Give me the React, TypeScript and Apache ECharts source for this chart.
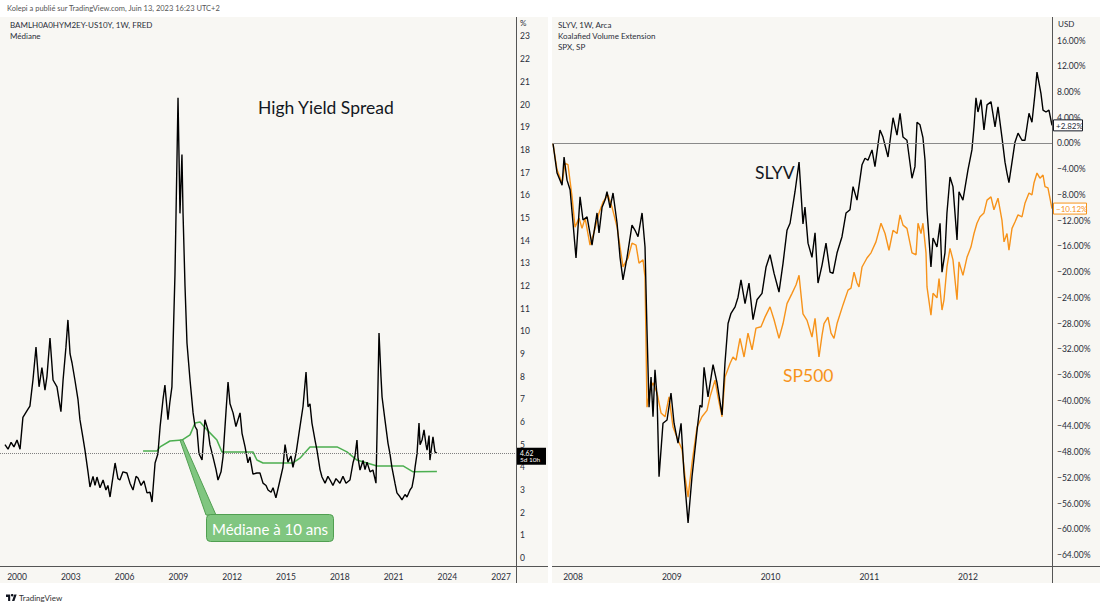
import React, { useEffect, useRef } from "react";
import * as echarts from "echarts";

// ---------- Left panel: High Yield spread (BAMLH0A0HYM2EY - US10Y), weekly, % ----------
const hyDates = [
  1999.33, 1999.5, 1999.67, 1999.83, 2000.0, 2000.17, 2000.33, 2000.56, 2000.72, 2000.89,
  2001.06, 2001.23, 2001.39, 2001.56, 2001.67, 2001.84, 2002.01, 2002.23, 2002.34, 2002.45,
  2002.57, 2002.73, 2002.84, 2002.96, 2003.07, 2003.23, 2003.4, 2003.51, 2003.68, 2003.79,
  2003.96, 2004.07, 2004.24, 2004.35, 2004.46, 2004.63, 2004.8, 2004.96, 2005.07, 2005.19,
  2005.3, 2005.47, 2005.63, 2005.74, 2005.91, 2006.13, 2006.3, 2006.47, 2006.64, 2006.75,
  2006.92, 2007.08, 2007.25, 2007.42, 2007.53, 2007.7, 2007.86, 2007.98, 2008.14, 2008.25,
  2008.42, 2008.53, 2008.64, 2008.7, 2008.81, 2008.87, 2008.92, 2008.98, 2009.03, 2009.09,
  2009.2, 2009.26, 2009.37, 2009.48, 2009.65, 2009.82, 2009.93, 2010.04, 2010.15, 2010.32,
  2010.48, 2010.65, 2010.76, 2010.93, 2011.1, 2011.21, 2011.38, 2011.49, 2011.66, 2011.77,
  2011.88, 2012.05, 2012.21, 2012.44, 2012.55, 2012.72, 2012.88, 2012.99, 2013.16, 2013.38,
  2013.55, 2013.72, 2013.89, 2014.0, 2014.17, 2014.28, 2014.44, 2014.67, 2014.83, 2014.95,
  2015.11, 2015.28, 2015.39, 2015.56, 2015.78, 2015.95, 2016.12, 2016.23, 2016.34, 2016.45,
  2016.62, 2016.73, 2016.9, 2017.01, 2017.18, 2017.34, 2017.46, 2017.62, 2017.79, 2018.01,
  2018.18, 2018.35, 2018.57, 2018.74, 2018.85, 2018.96, 2019.02, 2019.13, 2019.3, 2019.41,
  2019.52, 2019.69, 2019.85, 2020.02, 2020.08, 2020.19, 2020.3, 2020.36, 2020.52, 2020.69,
  2020.8, 2020.91, 2021.08, 2021.19, 2021.36, 2021.47, 2021.64, 2021.75, 2021.92, 2022.03,
  2022.14, 2022.2, 2022.31, 2022.42, 2022.48, 2022.59, 2022.7, 2022.81, 2022.87, 2022.98,
  2023.03, 2023.14, 2023.2, 2023.31, 2023.42,
];
const hyValues = [
  5.0, 4.8, 5.1, 4.9, 5.2, 4.8, 6.2, 6.5, 6.7, 7.85,
  9.3, 7.55, 8.4, 7.4, 8.0, 9.7, 7.85, 7.55, 7.0, 6.45,
  7.85, 9.3, 10.5, 9.0, 8.6, 7.85, 7.0, 6.1, 5.3, 4.76,
  3.8, 3.13, 3.6, 3.2, 3.57, 3.1, 3.44, 3.0, 3.2, 2.69,
  3.3, 4.19, 3.5, 3.44, 3.8, 3.75, 3.3, 3.0, 3.6, 3.53,
  3.2, 3.4, 2.87, 2.9, 2.47, 4.19, 4.6, 5.78, 6.97, 7.63,
  6.1, 6.9, 7.55, 9.3, 12.5, 15.2, 17.5, 20.3, 18.0, 15.2,
  17.8, 15.2, 12.0, 9.48, 7.85, 6.4, 5.8, 5.65, 4.6, 4.32,
  6.1, 5.65, 5.0, 4.46, 3.9, 3.44, 3.8, 4.46, 6.5, 7.76,
  6.8, 6.4, 5.8, 6.4, 5.5, 4.9, 4.2, 4.46, 3.7, 3.75,
  3.75, 3.3, 3.2, 3.0, 2.9, 3.1, 2.65, 3.44, 4.0, 5.0,
  4.23, 4.5, 4.0, 4.6, 5.78, 6.67, 8.2, 6.67, 6.8, 5.95,
  5.2, 4.76, 3.9, 3.57, 3.3, 3.6, 3.44, 3.2, 3.5, 3.3,
  3.6, 3.3, 3.44, 4.2, 4.5, 5.2, 4.4, 3.88, 4.3, 3.9,
  4.23, 3.8, 3.88, 3.3, 5.5, 9.92, 8.0, 7.1, 6.1, 5.07,
  4.6, 4.0, 3.3, 2.87, 2.7, 2.56, 2.8, 2.69, 3.0, 3.13,
  3.6, 4.0, 4.6, 5.95, 5.0, 5.2, 5.65, 5.0, 4.76, 5.4,
  4.32, 5.0, 5.34, 4.68, 4.62,
];
const hyLast = 4.62;

// 10-year median of the spread
const medDates = [
  2007.03, 2007.81, 2007.98, 2008.53, 2009.2, 2009.65, 2009.93, 2010.21, 2010.6, 2011.15,
  2011.43, 2013.16, 2013.38, 2013.72, 2015.39, 2015.78, 2016.34, 2017.85, 2018.4, 2018.96,
  2019.52, 2020.08, 2021.53, 2022.09, 2023.42,
];
const medValues = [
  4.72, 4.72, 4.9, 5.16, 5.2, 5.43, 5.95, 6.0, 5.65, 5.2,
  4.68, 4.68, 4.32, 4.19, 4.19, 4.4, 4.9, 4.9, 4.68, 4.32,
  4.19, 4.06, 4.06, 3.8, 3.82,
];

const hyYearTicks = [2000, 2003, 2006, 2009, 2012, 2015, 2018, 2021, 2024, 2027];
const hyRateTicks = [0, 1, 2, 3, 4, 5, 6, 7, 8, 9, 10, 11, 12, 13, 14, 15, 16, 17, 18, 19, 20, 21, 22, 23];

// ---------- Right panel: SLYV vs SPX, % change ----------
const slyvDates = [
  2007.797, 2007.838, 2007.889, 2007.909, 2007.939, 2007.97, 2008.0, 2008.03, 2008.071, 2008.101,
  2008.142, 2008.192, 2008.243, 2008.263, 2008.294, 2008.324, 2008.344, 2008.375, 2008.405, 2008.446,
  2008.476, 2008.506, 2008.547, 2008.597, 2008.628, 2008.658, 2008.699, 2008.729, 2008.749, 2008.77,
  2008.79, 2008.81, 2008.83, 2008.851, 2008.871, 2008.911, 2008.952, 2008.992, 2009.023, 2009.063,
  2009.094, 2009.124, 2009.165, 2009.205, 2009.256, 2009.286, 2009.306, 2009.327, 2009.367, 2009.418,
  2009.458, 2009.509, 2009.539, 2009.57, 2009.6, 2009.641, 2009.671, 2009.701, 2009.742, 2009.782,
  2009.823, 2009.863, 2009.914, 2009.955, 2009.995, 2010.036, 2010.086, 2010.127, 2010.167, 2010.198,
  2010.248, 2010.289, 2010.329, 2010.349, 2010.38, 2010.42, 2010.451, 2010.481, 2010.522, 2010.562,
  2010.603, 2010.633, 2010.674, 2010.724, 2010.765, 2010.805, 2010.836, 2010.876, 2010.927, 2010.957,
  2010.987, 2011.028, 2011.058, 2011.109, 2011.139, 2011.19, 2011.241, 2011.281, 2011.312, 2011.342,
  2011.382, 2011.433, 2011.463, 2011.484, 2011.514, 2011.544, 2011.565, 2011.585, 2011.625, 2011.646,
  2011.686, 2011.717, 2011.737, 2011.767, 2011.787, 2011.818, 2011.848, 2011.889, 2011.909, 2011.949,
  2012.0, 2012.04, 2012.061, 2012.081, 2012.101, 2012.132, 2012.162, 2012.193, 2012.233, 2012.274,
  2012.304, 2012.344, 2012.375, 2012.395, 2012.415, 2012.446, 2012.476, 2012.507, 2012.547, 2012.577,
  2012.618, 2012.648, 2012.679, 2012.699, 2012.739, 2012.76, 2012.79, 2012.82, 2012.851,
];
const slyvValues = [
  0, -4.6, -6.5, -2.1, -5.7, -7.2, -12.4, -17.8, -8.3, -11.9,
  -11.4, -15.8, -10.8, -13.9, -9.9, -8.8, -7.5, -10.0, -7.7, -12.4,
  -17.7, -21.2, -17.7, -12.7, -13.5, -14.5, -10.8, -16.1, -29.0, -41.0,
  -36.3, -42.5, -35.2, -39.4, -51.8, -43.5, -43.0, -38.8, -43.5, -46.6,
  -43.5, -51.3, -59.0, -51.8, -44.6, -40.7, -41.0, -34.8, -39.4, -34.4,
  -37.2, -42.2, -34.1, -28.0, -26.4, -25.4, -23.9, -21.2, -24.9, -21.7,
  -27.4, -24.3, -23.3, -19.2, -17.3, -20.2, -23.1, -18.6, -13.5, -12.4,
  -7.5, -2.9, -12.5, -9.9, -15.5, -17.7, -13.9, -21.7, -18.9, -15.5,
  -20.0, -20.2, -17.0, -14.5, -10.8, -10.3, -6.7, -8.8, -3.3, -2.3,
  -2.6, -1.0, -3.6, 2.1, 1.0, -2.1, 4.0, 1.3, 4.7, 1.0,
  0.5, -5.4, -3.6, 3.3, 2.9, 0.9, -2.6, -10.3, -19.2, -14.7,
  -16.1, -12.4, -20.0, -17.0, -10.8, -5.2, -6.7, -15.0, -7.5, -8.8,
  -4.1, -1.0, 2.6, 7.1, 4.9, 6.8, 2.1, 6.0, 6.5, 2.6,
  5.7, 1.0, -2.9, -4.6, -6.1, -2.9, 0.2, 1.6, 0.5, 0.5,
  4.7, 3.3, 7.8, 11.1, 7.8, 5.2, 4.9, 5.2, 2.82,
];
const slyvLast = 2.82;

const spxDates = [
  2007.797, 2007.838, 2007.889, 2007.919, 2007.949, 2007.99, 2008.02, 2008.061, 2008.091, 2008.122,
  2008.172, 2008.213, 2008.263, 2008.304, 2008.354, 2008.395, 2008.446, 2008.506, 2008.557, 2008.597,
  2008.638, 2008.668, 2008.709, 2008.729, 2008.749, 2008.78, 2008.81, 2008.851, 2008.891, 2008.932,
  2008.972, 2009.013, 2009.063, 2009.104, 2009.134, 2009.165, 2009.205, 2009.256, 2009.306, 2009.357,
  2009.387, 2009.438, 2009.468, 2009.509, 2009.539, 2009.59, 2009.62, 2009.651, 2009.691, 2009.732,
  2009.772, 2009.813, 2009.853, 2009.904, 2009.944, 2009.995, 2010.036, 2010.086, 2010.127, 2010.167,
  2010.218, 2010.258, 2010.289, 2010.329, 2010.37, 2010.42, 2010.451, 2010.491, 2010.522, 2010.542,
  2010.582, 2010.613, 2010.643, 2010.674, 2010.734, 2010.785, 2010.815, 2010.846, 2010.876, 2010.896,
  2010.927, 2010.977, 2011.018, 2011.068, 2011.119, 2011.16, 2011.2, 2011.241, 2011.281, 2011.312,
  2011.342, 2011.382, 2011.433, 2011.474, 2011.494, 2011.524, 2011.544, 2011.575, 2011.585, 2011.625,
  2011.646, 2011.686, 2011.707, 2011.737, 2011.757, 2011.787, 2011.818, 2011.848, 2011.889, 2011.909,
  2011.949, 2011.99, 2012.03, 2012.061, 2012.091, 2012.122, 2012.162, 2012.193, 2012.233, 2012.263,
  2012.304, 2012.344, 2012.365, 2012.395, 2012.415, 2012.446, 2012.476, 2012.507, 2012.547, 2012.577,
  2012.618, 2012.648, 2012.669, 2012.699, 2012.729, 2012.76, 2012.78, 2012.81, 2012.851,
];
const spxValues = [
  0, -4.1, -6.2, -3.1, -3.3, -8.3, -13.0, -11.6, -13.2, -11.6,
  -15.8, -13.8, -10.8, -9.1, -8.0, -9.9, -13.0, -19.2, -17.8, -15.5,
  -15.8, -18.6, -18.1, -20.8, -41.0, -38.3, -37.2, -38.8, -41.9, -42.5,
  -39.4, -44.1, -46.1, -47.6, -51.8, -55.0, -49.7, -44.1, -42.5, -41.5,
  -39.4, -36.8, -39.4, -42.5, -36.3, -34.2, -33.2, -33.7, -30.3, -33.2,
  -29.5, -32.1, -28.7, -28.5, -27.0, -25.4, -27.4, -30.3, -28.0, -24.9,
  -23.3, -22.0, -20.5, -26.5, -27.5, -30.1, -27.2, -33.2, -29.8, -28.0,
  -27.0, -29.5, -30.3, -28.0, -25.1, -22.8, -22.5, -20.0, -21.7, -22.3,
  -19.2, -17.8, -17.0, -15.3, -12.4, -14.0, -16.6, -13.5, -14.0, -11.1,
  -12.7, -13.2, -17.0, -17.3, -12.4, -14.0, -12.4, -17.0, -22.3, -26.7,
  -23.3, -24.0, -21.0, -25.9, -24.3, -19.2, -16.3, -18.1, -24.3, -18.4,
  -20.5, -17.7, -16.1, -14.0, -12.4, -11.4, -10.8, -8.8, -8.3, -10.3,
  -8.5, -11.9, -15.3, -14.0, -16.6, -13.2, -12.2, -11.1, -11.4, -9.3,
  -7.7, -8.0, -6.1, -4.6, -5.4, -4.9, -6.7, -6.9, -10.12,
];
const spxLast = -10.12;

const perfYearTicks = [2008, 2009, 2010, 2011, 2012];
const perfPctTicks = [-64, -60, -56, -52, -48, -44, -40, -36, -32, -28, -24, -20, -16, -12, -8, -4, 0, 4, 8, 12, 16];

// ---------- texts ----------
const publishedText = "Kolepi a publié sur TradingView.com, Juin 13, 2023 16:23 UTC+2";
const leftLegend = ["BAMLH0A0HYM2EY-US10Y, 1W, FRED", "Médiane"];
const rightLegend = ["SLYV, 1W, Arca", "Koalafied Volume Extension", "SPX, SP"];
const leftTitle = "High Yield Spread";
const calloutText = "Médiane à 10 ans";
const slyvName = "SLYV";
const spxName = "SP500";
const countdownText = "5d 10h";

const FONT = "Lato, 'DejaVu Sans', sans-serif";
const BG = "#f8f7f3";
const TXT = "#2a2e39";
const ORANGE = "#f7931a";
const GREEN = "#4caf50";
const AXIS = "#555555";

const zip = (xs: number[], ys: number[]) => xs.map((x, i) => [x, ys[i]]);
const pct = (v: number) => (v < 0 ? "\u2212" : "") + Math.abs(v).toFixed(2) + "%";

let logoRegistered = false;
function registerLogo() {
  if (logoRegistered) return;
  logoRegistered = true;
  echarts.graphic.registerShape(
    "tvlogo",
    echarts.graphic.extendPath("M14 22H7V11H0V4h14v18zM28 22h-8l7.5-18h8L28 22z", {}) as any
  );
}

export default function App() {
  const ref = useRef<HTMLDivElement>(null);

  useEffect(() => {
    registerLogo();
    const el = ref.current!;
    const chart = echarts.init(el, undefined, { renderer: "svg", width: 1100, height: 607 });

    const smallText = (text: string, x: number, y: number, extra: any = {}, z = 50) => ({
      type: "text",
      x,
      y,
      silent: true,
      z,
      style: {
        text,
        fill: TXT,
        fontSize: 8,
        fontFamily: FONT,
        verticalAlign: "middle",
        align: "left",
        ...extra,
      },
    });

    const axisLabelStyle = { color: TXT, fontSize: 8.5, fontFamily: FONT };

    const base: any = {
      animation: false,
      backgroundColor: "#ffffff",
      textStyle: { fontFamily: FONT },
      grid: [
        { left: 0, top: 17, width: 516, height: 549, containLabel: false },
        { left: 553, top: 17, width: 499, height: 549, containLabel: false },
      ],
      xAxis: [
        {
          type: "value",
          gridIndex: 0,
          min: 1999.052,
          max: 2027.83,
          axisLine: { show: false },
          axisTick: { show: false },
          splitLine: { show: false },
          axisLabel: { customValues: hyYearTicks, formatter: (v: number) => String(v), margin: 6, ...axisLabelStyle },
        },
        {
          type: "value",
          gridIndex: 1,
          min: 2007.797,
          max: 2012.851,
          axisLine: { show: false },
          axisTick: { show: false },
          splitLine: { show: false },
          axisLabel: { customValues: perfYearTicks, formatter: (v: number) => String(v), margin: 6, ...axisLabelStyle },
        },
      ],
      yAxis: [
        {
          type: "value",
          gridIndex: 0,
          position: "right",
          min: -0.353,
          max: 23.86,
          axisLine: { show: false },
          axisTick: { show: false },
          splitLine: { show: false },
          axisLabel: { customValues: hyRateTicks, formatter: (v: number) => String(v), margin: 4, ...axisLabelStyle },
        },
        {
          type: "value",
          gridIndex: 1,
          position: "right",
          min: -65.7,
          max: 19.67,
          axisLine: { show: false },
          axisTick: { show: false },
          splitLine: { show: false },
          axisLabel: { customValues: perfPctTicks, formatter: pct, margin: 5, ...axisLabelStyle },
        },
      ],
      series: [
        {
          name: "Médiane",
          type: "line",
          xAxisIndex: 0,
          yAxisIndex: 0,
          data: zip(medDates, medValues),
          symbol: "none",
          silent: true,
          z: 3,
          lineStyle: { color: GREEN, width: 1.5 },
        },
        {
          name: "HY",
          type: "line",
          xAxisIndex: 0,
          yAxisIndex: 0,
          data: zip(hyDates, hyValues),
          symbol: "none",
          silent: true,
          z: 4,
          lineStyle: { color: "#000000", width: 1.4 },
          markLine: {
            silent: true,
            symbol: "none",
            label: { show: false },
            lineStyle: { type: "dotted", color: "#808080", width: 1 },
            data: [{ yAxis: hyLast }],
          },
        },
        {
          name: "SPX",
          type: "line",
          xAxisIndex: 1,
          yAxisIndex: 1,
          data: zip(spxDates, spxValues),
          symbol: "none",
          silent: true,
          z: 3,
          lineStyle: { color: ORANGE, width: 1.4 },
        },
        {
          name: "SLYV",
          type: "line",
          xAxisIndex: 1,
          yAxisIndex: 1,
          data: zip(slyvDates, slyvValues),
          symbol: "none",
          silent: true,
          z: 4,
          lineStyle: { color: "#000000", width: 1.4 },
          markLine: {
            silent: true,
            symbol: "none",
            label: { show: false },
            lineStyle: { type: "solid", color: "#8a8a8a", width: 1 },
            data: [{ yAxis: 0 }],
          },
        },
      ],
    };

    chart.setOption(base);

    const px = (axis: number, x: number, y: number) =>
      chart.convertToPixel({ xAxisIndex: axis, yAxisIndex: axis }, [x, y]) as number[];

    const hyTag = px(0, hyDates[hyDates.length - 1], hyLast);
    const slyvTag = px(1, slyvDates[slyvDates.length - 1], slyvLast);
    const spxTag = px(1, spxDates[spxDates.length - 1], spxLast);
    const anchor = px(0, 2009.2, 5.2);

    const graphic: any[] = [
      // panel backgrounds
      { type: "rect", z: -10, silent: true, shape: { x: 0, y: 17, width: 548, height: 566 }, style: { fill: BG } },
      { type: "rect", z: -10, silent: true, shape: { x: 552, y: 17, width: 548, height: 566 }, style: { fill: BG } },
      // frames
      { type: "line", z: 20, silent: true, shape: { x1: 516.5, y1: 17, x2: 516.5, y2: 583 }, style: { stroke: AXIS, lineWidth: 1 } },
      { type: "line", z: 20, silent: true, shape: { x1: 0, y1: 566.5, x2: 548, y2: 566.5 }, style: { stroke: AXIS, lineWidth: 1 } },
      { type: "line", z: 20, silent: true, shape: { x1: 1052.5, y1: 17, x2: 1052.5, y2: 583 }, style: { stroke: AXIS, lineWidth: 1 } },
      { type: "line", z: 20, silent: true, shape: { x1: 552, y1: 566.5, x2: 1100, y2: 566.5 }, style: { stroke: AXIS, lineWidth: 1 } },
      // header
      smallText(publishedText, 7, 8, { fill: "#555", fontSize: 7.5 }),
      smallText(leftLegend[0], 10, 25),
      smallText(leftLegend[1], 10, 36),
      smallText("%", 520, 23),
      smallText(rightLegend[0], 558, 25),
      smallText(rightLegend[1], 558, 36),
      smallText(rightLegend[2], 558, 47),
      smallText("USD", 1058, 24),
      // big labels
      smallText(leftTitle, 258, 107, { fontSize: 17.5, fill: "#131722" }),
      smallText(slyvName, 755, 172, { fontSize: 17.5, fill: "#131722" }),
      smallText(spxName, 783, 375, { fontSize: 17.5, fill: ORANGE }),
      // callout
      {
        type: "polygon",
        z: 30,
        silent: true,
        shape: { points: [[anchor[0] - 2, anchor[1]], [anchor[0] + 1, anchor[1]], [216, 515], [206, 515]] },
        style: { fill: "#80c680", stroke: "#519f51", lineWidth: 1 },
      },
      {
        type: "rect",
        z: 31,
        silent: true,
        shape: { x: 206.5, y: 514.5, width: 127, height: 27, r: 4 },
        style: { fill: "#80c680", stroke: "#519f51", lineWidth: 1 },
      },
      smallText(calloutText, 270, 528.5, { fontSize: 15, fill: "#ffffff", align: "center" }),
      // left price tag (two lines)
      {
        type: "rect",
        z: 60,
        silent: true,
        shape: { x: 517, y: hyTag[1] - 5.5, width: 29, height: 17 },
        style: { fill: "#000000" },
      },
      smallText(hyLast.toFixed(2), 520, hyTag[1], { fill: "#fff", fontSize: 6.8 }, 61),
      smallText(countdownText, 520, hyTag[1] + 6.3, { fill: "#fff", fontSize: 6.5 }, 61),
      // right price tags
      {
        type: "rect",
        z: 60,
        silent: true,
        shape: { x: 1053.5, y: slyvTag[1] - 5.5, width: 29, height: 11 },
        style: { fill: "#ffffff", stroke: "#131722", lineWidth: 1 },
      },
      smallText("+" + slyvLast.toFixed(2) + "%", 1056, slyvTag[1] + 0.5, { fontSize: 8 }, 61),
      {
        type: "rect",
        z: 60,
        silent: true,
        shape: { x: 1053.5, y: spxTag[1] - 5.5, width: 33, height: 11 },
        style: { fill: "#ffffff", stroke: ORANGE, lineWidth: 1 },
      },
      smallText(pct(spxLast), 1056, spxTag[1] + 0.5, { fontSize: 8, fill: ORANGE }, 61),
      // footer logo
      {
        type: "tvlogo",
        z: 50,
        silent: true,
        x: 6,
        y: 593,
        scaleX: 0.3,
        scaleY: 0.36,
        style: { fill: "#131722" },
      },
      { type: "circle", z: 50, silent: true, shape: { cx: 12.2, cy: 595.2, r: 1.3 }, style: { fill: "#131722" } },
      smallText("TradingView", 19, 597.5, { fontSize: 8, fill: "#333" }),
    ];

    chart.setOption({ graphic });

    return () => chart.dispose();
  }, []);

  return (
    <div
      ref={ref}
      style={{ position: "absolute", left: 0, top: 0, width: 1100, height: 607 }}
    />
  );
}
